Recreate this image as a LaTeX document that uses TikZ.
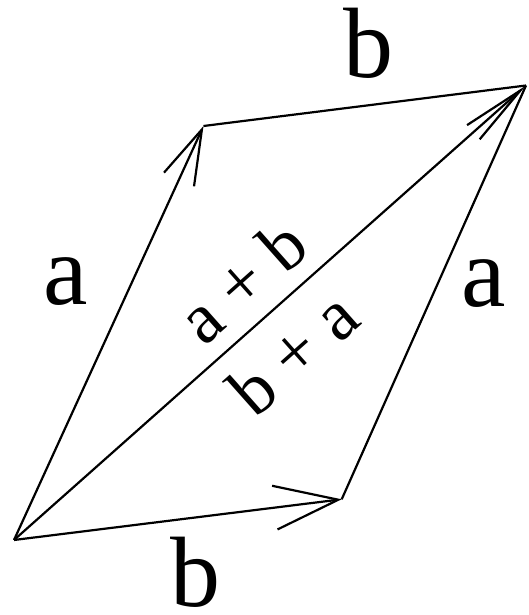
\documentclass[tikz,border=0pt]{standalone}
\usepackage{fontspec}
\setmainfont{Liberation Serif}
\usetikzlibrary{arrows.meta}

\begin{document}
\begin{tikzpicture}[x=1pt,y=1pt,line width=2.2pt,
    big/.style={inner sep=0pt,font=\fontsize{100}{100}\selectfont},
    small/.style={inner sep=0pt,font=\fontsize{72}{72}\selectfont}]
    \useasboundingbox (0,0) rectangle (528,615);

    % Ecken des Parallelogramms
    \coordinate (O) at (14,75);
    \coordinate (A) at (203.5,489);
    \coordinate (B) at (341.7,115.7);
    \coordinate (C) at (526,529.5);

    % Vektoren a und b mit offenen Spitzen
    \draw[-{Straight Barb[length=55pt,width=33pt]}] (O) -- (A);
    \draw[-{Straight Barb[length=64pt,width=44pt]}] (O) -- (B);

    % obere und rechte Seite ohne Spitze
    \draw (A) -- (C);
    \draw (B) -- (C);

    % Diagonale a+b = b+a
    \draw[-{Straight Barb[length=63pt,width=19pt]}] (O) -- (C)
        node[small,pos=0.5,sloped,above=16pt] (ab) {a + b}
        node[small,pos=0.486,sloped,below=19pt] (ba) {b + a};

    % Beschriftung der Seiten
    \node[big] (bt) at (368,572) {b};
    \node[big] (al) at (66,333) {a};
    \node[big] (ar) at (484,331) {a};
    \node[big] (bb) at (195,43) {b};

\end{tikzpicture}
\end{document}
